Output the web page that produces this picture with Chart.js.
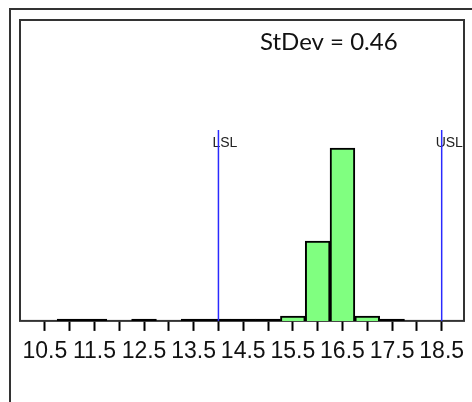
<!DOCTYPE html>
<html>
<head>
<meta charset="utf-8">
<script src="https://cdn.jsdelivr.net/npm/chart.js@4"></script>
<style>
    html, body { margin: 0; padding: 0; background: #fff; overflow: hidden; }
    #wrap { position: relative; width: 472px; height: 402px; }
    #frame {
        position: absolute; left: 9px; top: 8px; width: 600px; height: 600px;
        border: 2px solid #333; box-sizing: border-box;
    }
    #chart { position: absolute; left: 0; top: 0; }
</style>
</head>
<body>
<div id="wrap">
    <div id="frame"></div>
    <canvas id="chart" width="472" height="402"></canvas>
</div>
<script>
// Histogram bins (centre of each 0.5 wide bin) and bar heights
const binCenters = [11, 11.5, 12.5, 13.5, 14, 14.5, 15, 15.5, 16, 16.5, 17, 17.5];
const binHeights = [0.6, 0.6, 0.6, 0.6, 0.6, 0.6, 0.6, 1.6, 26.5, 57.4, 1.6, 0.6];

// Axis ticks
const tickValues = [10.5, 11, 11.5, 12, 12.5, 13, 13.5, 14, 14.5, 15, 15.5, 16, 16.5, 17, 17.5, 18, 18.5];
const tickLabels = ['10.5', '11.5', '12.5', '13.5', '14.5', '15.5', '16.5', '17.5', '18.5'];

// Spec limits
const limitValues = [14, 18.5];
const limitNames = ['LSL', 'USL'];

const statText = 'StDev = 0.46';

// Box round the plot, spec limit lines and the stat text
const decorPlugin = {
    id: 'decor',
    beforeDatasetsDraw(chart) {
        const { ctx, chartArea } = chart;
        ctx.save();
        ctx.strokeStyle = '#333';
        ctx.lineWidth = 2;
        ctx.strokeRect(chartArea.left, chartArea.top,
            chartArea.right - chartArea.left, chartArea.bottom - chartArea.top);
        ctx.restore();
    },
    afterDatasetsDraw(chart) {
        const { ctx, chartArea, scales } = chart;
        ctx.save();
        const lineTop = chartArea.top + 110;
        limitValues.forEach((v, i) => {
            const x = scales.x.getPixelForValue(v);
            ctx.font = '14px "Liberation Sans", Arial, sans-serif';
            ctx.fillStyle = '#222';
            ctx.textAlign = 'left';
            ctx.textBaseline = 'middle';
            ctx.fillText(limitNames[i], x - 6, lineTop + 13);
            ctx.strokeStyle = '#2a2aff';
            ctx.lineWidth = 1.5;
            ctx.beginPath();
            ctx.moveTo(x, lineTop);
            ctx.lineTo(x, chartArea.bottom);
            ctx.stroke();
        });
        // redraw right edge so it covers the USL text
        ctx.fillStyle = '#fff';
        ctx.fillRect(chartArea.right, chartArea.top + 100, 10, 30);
        ctx.strokeStyle = '#333';
        ctx.lineWidth = 2;
        ctx.beginPath();
        ctx.moveTo(chartArea.right, chartArea.top);
        ctx.lineTo(chartArea.right, chartArea.bottom);
        ctx.stroke();

        ctx.font = '24px Lato, "Open Sans", sans-serif';
        ctx.fillStyle = '#111';
        ctx.textAlign = 'left';
        ctx.textBaseline = 'alphabetic';
        ctx.fillText(statText, 260, 50);
        ctx.restore();
    }
};

new Chart(document.getElementById('chart'), {
    type: 'bar',
    data: {
        datasets: [{
            data: binCenters.map((c, i) => ({ x: c, y: binHeights[i] })),
            backgroundColor: (ctx) => (ctx.raw && ctx.raw.y < 1 ? '#000' : '#80ff80'),
            borderColor: '#000',
            borderWidth: 2,
            borderSkipped: 'bottom',
            barPercentage: 1,
            categoryPercentage: 1
        }]
    },
    options: {
        responsive: false,
        animation: false,
        layout: {
            padding: { left: 20, right: 8, top: 20, bottom: 29.5 }
        },
        plugins: {
            legend: { display: false },
            tooltip: { enabled: false }
        },
        scales: {
            x: {
                type: 'linear',
                min: 10,
                max: 18.95,
                offset: false,
                afterBuildTicks: (scale) => {
                    scale.ticks = tickValues.map(v => ({ value: v }));
                },
                ticks: {
                    autoSkip: false,
                    minRotation: 0,
                    maxRotation: 0,
                    padding: 7,
                    color: '#111',
                    font: { family: '"Liberation Sans", Arial, sans-serif', size: 23 },
                    callback: (value) => {
                        const s = value.toFixed(1);
                        return tickLabels.includes(s) ? s : '';
                    }
                },
                grid: {
                    display: true,
                    offset: false,
                    drawOnChartArea: false,
                    drawTicks: true,
                    tickLength: 10,
                    tickColor: '#000',
                    tickWidth: 2
                },
                border: { display: false }
            },
            y: {
                display: false,
                min: 0,
                max: 100
            }
        }
    },
    plugins: [decorPlugin]
});
</script>
</body>
</html>
